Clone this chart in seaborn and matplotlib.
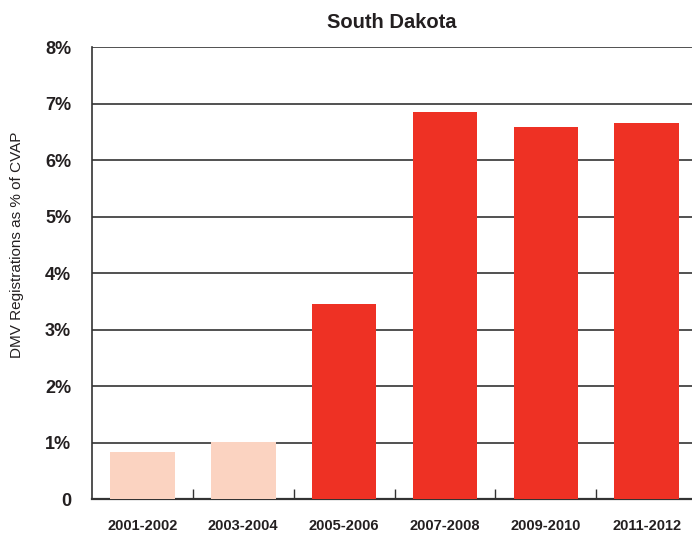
import seaborn as sns
import matplotlib.pyplot as plt
import pandas as pd

periods = ["2001-2002", "2003-2004", "2005-2006", "2007-2008", "2009-2010", "2011-2012"]
pct_cvap = [0.84, 1.02, 3.46, 6.86, 6.59, 6.66]
bar_colors = ["#FBD3C1", "#FBD3C1", "#EE3124", "#EE3124", "#EE3124", "#EE3124"]
ytick_vals = [0, 1, 2, 3, 4, 5, 6, 7, 8]
ytick_labels = ["0", "1%", "2%", "3%", "4%", "5%", "6%", "7%", "8%"]

df = pd.DataFrame({"period": periods, "value": pct_cvap})

sns.set_style("white")
plt.rcParams['font.family'] = ['Liberation Sans', 'DejaVu Sans']

fig = plt.figure(figsize=(6.92, 5.33), dpi=100)
ax = fig.add_axes([0.133, 0.063, 0.867, 0.848])

sns.barplot(data=df, x="period", y="value", hue="period",
            palette=dict(zip(periods, bar_colors)), legend=False,
            width=0.64, saturation=1, linewidth=0, ax=ax, zorder=3)

ax.set_ylim(0, 8)
ax.set_xlim(-0.5, 5.45)
ax.set_yticks(ytick_vals)
ax.set_yticklabels(ytick_labels, fontsize=13, fontweight="bold", color="#231f20")
ax.grid(axis="y", color="#333333", linewidth=1.2, zorder=0)
ax.set_axisbelow(True)

for lab in ax.get_xticklabels():
    lab.set_fontweight("bold")
    lab.set_fontsize(10.5)
    lab.set_color("#231f20")
ax.tick_params(axis="x", which="major", length=0, pad=14)
ax.tick_params(axis="y", length=0, pad=15)
ax.set_xticks([0.5, 1.5, 2.5, 3.5, 4.5], minor=True)
ax.tick_params(axis="x", which="minor", bottom=True, direction="in",
               length=7, width=1, color="#333333")

for side in ["top", "right"]:
    ax.spines[side].set_visible(False)
ax.spines["left"].set_color("#333333")
ax.spines["left"].set_linewidth(1.2)
ax.spines["bottom"].set_color("#333333")
ax.spines["bottom"].set_linewidth(1.6)

ax.set_xlabel("")
ax.set_ylabel("DMV Registrations as % of CVAP", fontsize=11, color="#231f20")
ax.yaxis.set_label_coords(-0.113, 0.563)
ax.set_title("South Dakota", fontsize=14.5, fontweight="bold", color="#231f20", pad=14)

fig.savefig("out.png", dpi=100)
